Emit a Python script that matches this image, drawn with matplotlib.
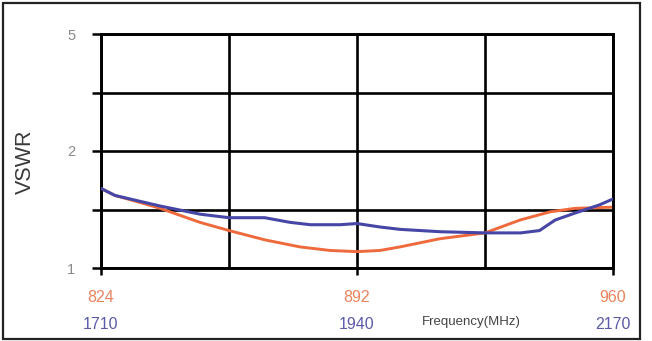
import matplotlib
matplotlib.use("Agg")
import matplotlib.pyplot as plt
from matplotlib.patches import Rectangle
import numpy as np

# grid levels of the VSWR axis (equally spaced on the chart)
vswr_levels = [1.0, 1.5, 2.0, 3.0, 5.0]
vswr_labels = ["1", "", "2", "", "5"]

# GSM band (red curve)
freq_gsm = [824, 827.7, 834.4, 839.7, 850.3, 858, 867.6, 876.9, 884.8, 892,
            898.1, 903.4, 914, 926, 935.3, 943.3, 949.9, 960]
vswr_gsm = [1.68, 1.62, 1.56, 1.51, 1.39, 1.32, 1.24, 1.18, 1.15, 1.14,
            1.15, 1.18, 1.25, 1.30, 1.41, 1.48, 1.51, 1.52]

# DCS/PCS band (blue curve)
freq_dcs = [1710, 1722.6, 1745, 1763, 1799, 1825, 1857, 1880, 1898, 1925,
            1940, 1947, 1961, 1979, 2015, 2055, 2087, 2104, 2118, 2136, 2158, 2170]
vswr_dcs = [1.68, 1.62, 1.57, 1.53, 1.46, 1.43, 1.43, 1.39, 1.37, 1.37,
            1.38, 1.37, 1.35, 1.33, 1.31, 1.30, 1.30, 1.32, 1.41, 1.47, 1.54, 1.59]

gsm_ticks = [824, 892, 960]
dcs_ticks = [1710, 1940, 2170]

red = "#ee6a3c"
blue = "#4646a6"
red_txt = "#e8835e"
blue_txt = "#5a5aa8"

plt.rcParams["font.family"] = ["Liberation Sans", "DejaVu Sans"]

pos = np.arange(len(vswr_levels), dtype=float)
def fwd(v):
    return np.interp(v, vswr_levels, pos)
def inv(p):
    return np.interp(p, pos, vswr_levels)

fig = plt.figure(figsize=(6.52, 3.41), dpi=100)
ax = fig.add_axes([101 / 652, 1 - 268 / 341, 512 / 652, 234 / 341])

ax.set_yscale("function", functions=(fwd, inv))
ax.set_ylim(1, 5)
ax.set_xlim(gsm_ticks[0], gsm_ticks[-1])

# grid
for v in vswr_levels:
    ax.axhline(v, color="black", lw=1.9, zorder=1)
for i in range(5):
    ax.axvline(gsm_ticks[0] + i * (gsm_ticks[-1] - gsm_ticks[0]) / 4, color="black", lw=1.9, zorder=1)

ax.plot(freq_gsm, vswr_gsm, color=red, lw=2.1, zorder=3, solid_capstyle="round")

ax2 = ax.twiny()
ax2.set_xlim(dcs_ticks[0], dcs_ticks[-1])
ax2.plot(freq_dcs, vswr_dcs, color=blue, lw=2.2, zorder=3, solid_capstyle="round")

ax.set_yticks(vswr_levels)
ax.set_yticklabels(vswr_labels)
ax.yaxis.set_minor_locator(matplotlib.ticker.NullLocator())
ax.tick_params(axis="y", length=6.5, width=1.8, pad=12, labelsize=10.5, labelcolor="#8a8a8a")

ax.set_xticks(gsm_ticks)
ax.set_xticklabels([str(t) for t in gsm_ticks])
ax.tick_params(axis="x", length=5, width=1.8, pad=11, labelsize=11.5, labelcolor=red_txt)

ax2.xaxis.set_ticks_position("bottom")
ax2.xaxis.set_label_position("bottom")
ax2.set_xticks(dcs_ticks)
ax2.set_xticklabels([str(t) for t in dcs_ticks])
ax2.tick_params(axis="x", length=0, pad=35, labelsize=11.5, labelcolor=blue_txt)

for a in (ax, ax2):
    for s in a.spines.values():
        s.set_color("black")
        s.set_linewidth(1.9)

fig.text(25 / 652, 1 - 162 / 341, "VSWR", rotation=90, ha="center", va="center",
         fontsize=15.5, color="#3a3a3a")
fig.text(471 / 652, 1 - 322 / 341, "Frequency(MHz)", ha="center", va="center",
         fontsize=9.5, color="#444444")

fig.patches.append(Rectangle((3 / 652, 2 / 341), 637 / 652, 336 / 341, transform=fig.transFigure,
                             fill=False, edgecolor="#222222", lw=1.6))

fig.savefig("out.png", dpi=100)
